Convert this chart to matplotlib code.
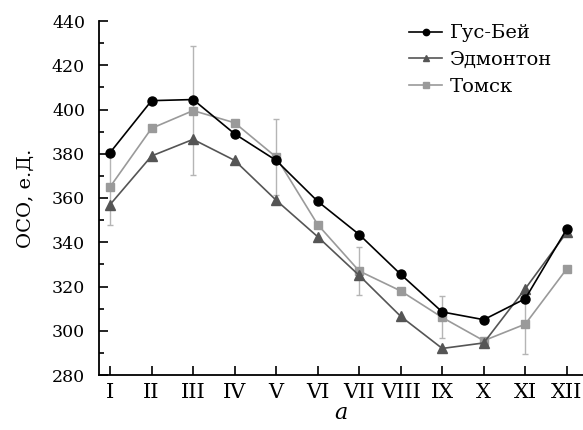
import matplotlib.pyplot as plt
import numpy as np
from matplotlib.ticker import MultipleLocator

plt.rcParams['font.family'] = ['DejaVu Serif']

months = ['I', 'II', 'III', 'IV', 'V', 'VI', 'VII', 'VIII', 'IX', 'X', 'XI', 'XII']
goose_bay = [380.5, 404, 404.5, 389, 377, 358.5, 343.5, 325.5, 308.5, 305, 314.5, 346]
edmonton = [357, 379, 386.5, 377, 359, 342.5, 325, 306.5, 292, 294.5, 319, 344.5]
tomsk = [365, 391.5, 399.5, 394, 378.5, 348, 327, 318, 306, 295.5, 303, 328]
# error bars shown for Tomsk on odd months only
tomsk_err_idx = [0, 2, 4, 6, 8, 10]
tomsk_err = [17, 29, 17, 11, 9.5, 13.5]

x = np.arange(1, len(months) + 1)

fig = plt.figure(figsize=(5.83, 4.3), dpi=100)
ax = fig.add_axes([99 / 583, 55 / 430, 484 / 583, 354 / 430])

ex = x[tomsk_err_idx]
ey = np.array(tomsk)[tomsk_err_idx]
ax.errorbar(ex, ey, yerr=tomsk_err, fmt='none', ecolor='#b5b5b5',
            elinewidth=1.0, capsize=2.5, capthick=1.0, zorder=1)

ax.plot(x, goose_bay, '-o', color='black', lw=1.2, ms=6.5, label='Гус-Бей', zorder=4)
ax.plot(x, edmonton, '-^', color='#555555', lw=1.2, ms=6.5, label='Эдмонтон', zorder=3)
ax.plot(x, tomsk, '-s', color='#9a9a9a', lw=1.2, ms=6, label='Томск', zorder=2)

ax.set_xlim(0.734, 12.39)
ax.set_ylim(280, 440)
ax.set_xticks(x)
ax.set_xticklabels(months)
ax.yaxis.set_major_locator(MultipleLocator(20))
ax.yaxis.set_minor_locator(MultipleLocator(10))
ax.tick_params(direction='in', width=1.2, length=6.5)
ax.tick_params(which='minor', direction='in', width=1.2, length=3.5)
ax.tick_params(axis='y', labelsize=12.5, pad=10)
ax.tick_params(axis='x', labelsize=15, pad=6)

ax.spines['top'].set_visible(False)
ax.spines['right'].set_visible(False)
ax.spines['left'].set_linewidth(1.3)
ax.spines['bottom'].set_linewidth(1.3)

ax.set_ylabel('ОСО, е.Д.', fontsize=14, labelpad=12)
ax.set_xlabel('a', fontsize=16, style='italic', labelpad=0)

ax.legend(loc='upper left', bbox_to_anchor=(0.605, 1.04), frameon=False,
          fontsize=14, handlelength=1.7, handletextpad=0.4, labelspacing=0.45,
          markerscale=0.7)

fig.savefig('out.png', dpi=100)
